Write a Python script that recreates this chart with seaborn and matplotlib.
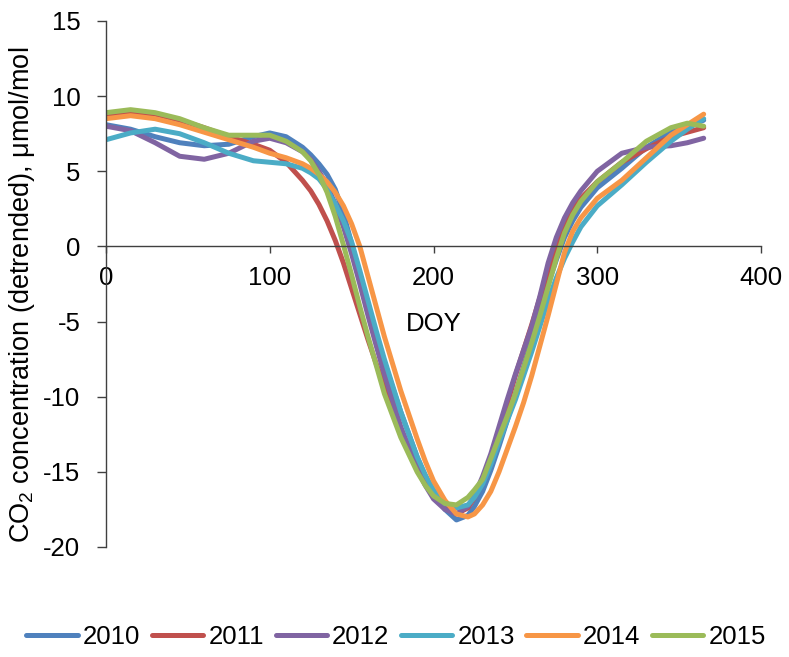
import matplotlib
matplotlib.use("Agg")
import matplotlib.pyplot as plt
import seaborn as sns
import pandas as pd

# ---- data ----
doy = [0, 15, 30, 45, 60, 75, 90, 100, 110, 120, 125, 130, 135, 140, 145, 150, 155, 160, 165, 170,
       180, 190, 195, 200, 207, 214, 221, 225, 230, 235, 240, 245, 250, 255, 260, 265, 270, 275,
       280, 285, 290, 300, 315, 330, 345, 355, 365]

y2010 = [8.1, 7.8, 7.3, 6.9, 6.7, 6.8, 7.3, 7.55, 7.3, 6.6, 6.1, 5.5, 4.8, 3.8, 2.2, 0.2, -1.9, -4.0,
         -5.9, -7.7, -11.0, -14.0, -15.3, -16.4, -17.5, -18.2, -17.9, -17.3, -16.3, -14.9, -13.3,
         -11.6, -9.8, -8.0, -6.2, -4.3, -2.5, -0.9, 0.6, 1.7, 2.6, 3.9, 5.2, 6.6, 7.6, 8.0, 8.4]
y2011 = [8.6, 8.9, 8.8, 8.4, 7.9, 7.3, 6.8, 6.4, 5.6, 4.4, 3.7, 2.8, 1.7, 0.4, -1.1, -2.8, -4.5, -6.2,
         -7.8, -9.3, -12.2, -14.6, -15.6, -16.5, -17.4, -17.8, -17.4, -16.7, -15.6, -14.1, -12.4,
         -10.5, -8.6, -6.9, -5.2, -3.4, -1.6, 0.0, 1.5, 2.5, 3.2, 4.3, 5.6, 6.5, 7.3, 7.6, 7.9]
y2012 = [8.0, 7.7, 6.9, 6.0, 5.8, 6.2, 7.0, 7.2, 6.9, 6.3, 5.8, 5.0, 4.1, 2.8, 1.3, -0.5, -2.5, -4.6,
         -6.6, -8.5, -12.0, -14.8, -15.9, -16.8, -17.5, -17.8, -17.3, -16.6, -15.3, -13.8, -12.0,
         -10.2, -8.5, -6.9, -5.3, -3.3, -1.1, 0.6, 1.9, 2.9, 3.7, 5.0, 6.2, 6.6, 6.7, 6.9, 7.2]
y2013 = [7.1, 7.55, 7.8, 7.5, 6.9, 6.2, 5.7, 5.6, 5.5, 5.2, 4.9, 4.5, 3.8, 2.8, 1.7, 0.3, -1.6, -3.6,
         -5.6, -7.5, -11.0, -14.0, -15.2, -16.2, -17.1, -17.4, -17.2, -16.7, -15.8, -14.5, -13.0,
         -11.6, -10.2, -8.6, -7.0, -5.3, -3.6, -2.1, -0.8, 0.3, 1.3, 2.7, 4.1, 5.6, 7.0, 7.8, 8.5]
y2014 = [8.5, 8.7, 8.5, 8.1, 7.6, 7.1, 6.6, 6.2, 5.9, 5.5, 5.2, 4.8, 4.3, 3.6, 2.7, 1.5, 0.0, -2.0,
         -4.0, -6.0, -9.6, -12.8, -14.3, -15.6, -16.9, -17.8, -18.0, -17.8, -17.2, -16.3, -15.0,
         -13.5, -12.0, -10.4, -8.6, -6.6, -4.6, -2.5, -0.4, 1.0, 1.9, 3.2, 4.4, 5.9, 7.4, 8.1, 8.8]
y2015 = [8.9, 9.1, 8.9, 8.5, 7.9, 7.4, 7.4, 7.4, 7.0, 6.3, 5.7, 4.8, 3.6, 2.0, 0.1, -1.9, -4.0, -6.0,
         -7.9, -9.8, -12.7, -15.0, -15.9, -16.6, -17.1, -17.2, -16.7, -16.2, -15.5, -14.1, -12.7,
         -11.3, -9.8, -8.1, -6.4, -4.6, -2.7, -0.8, 0.9, 2.1, 3.0, 4.3, 5.6, 7.0, 7.9, 8.2, 8.0]

years = ["2010", "2011", "2012", "2013", "2014", "2015"]
series = [y2010, y2011, y2012, y2013, y2014, y2015]
colors = ["#4F81BD", "#C0504D", "#8064A2", "#4BACC6", "#F79646", "#9BBB59"]

xticks = [0, 100, 200, 300, 400]
yticks = [-20, -15, -10, -5, 0, 5, 10, 15]

rows = []
for yr, vals in zip(years, series):
    for d, v in zip(doy, vals):
        rows.append({"DOY": d, "CO2": v, "Year": yr})
df = pd.DataFrame(rows)

# ---- style ----
sns.set_style("white")
plt.rcParams["font.family"] = ["Liberation Sans", "DejaVu Sans"]
plt.rcParams["mathtext.fontset"] = "custom"
plt.rcParams["mathtext.rm"] = "Liberation Sans"
plt.rcParams["mathtext.it"] = "Liberation Sans"
plt.rcParams["text.color"] = "black"
plt.rcParams["axes.labelcolor"] = "black"

fig = plt.figure(figsize=(7.89, 6.57), dpi=100)
ax = fig.add_axes([106 / 789, 1 - 547 / 657, (761 - 106) / 789, (547 - 21) / 657])

sns.lineplot(data=df, x="DOY", y="CO2", hue="Year", palette=colors, hue_order=years,
             linewidth=3.6, ax=ax, legend=False, sort=False)
for ln in ax.get_lines():
    ln.set_solid_capstyle("round")
    ln.set_solid_joinstyle("round")

ax.set_xlim(0, 400)
ax.set_ylim(-20, 15)
ax.set_xticks(xticks)
ax.set_yticks(yticks)
ax.set_xticklabels([str(t) for t in xticks])
ax.set_yticklabels([str(t) for t in yticks])

for s in ["top", "right"]:
    ax.spines[s].set_visible(False)
ax.spines["bottom"].set_position(("data", 0))
for s in ["left", "bottom"]:
    ax.spines[s].set_color("#404040")
    ax.spines[s].set_linewidth(1.0)

ax.tick_params(axis="y", direction="out", length=6.5, width=1.0, color="#404040",
               labelcolor="black", labelsize=18.5, pad=12, left=True)
ax.tick_params(axis="x", direction="out", length=5, width=1.0, color="#404040",
               labelcolor="black", labelsize=18.5, pad=9, bottom=True)

ax.set_xlabel("DOY", fontsize=18.5)
ax.xaxis.set_label_coords(0.5, 0.447)
ax.set_ylabel(r"CO$_\mathrm{2}$ concentration (detrended), μmol/mol", fontsize=19.5)
ax.yaxis.set_label_coords(-0.105, 0.48)

handles = [plt.Line2D([0], [0], color=c, lw=3.6, solid_capstyle="round") for c in colors]
fig.legend(handles, years, loc="center", bbox_to_anchor=(0.502, 1 - 637 / 657), ncol=6,
           frameon=False, fontsize=18.5, handlelength=2.0, handletextpad=0.2,
           columnspacing=0.45, borderaxespad=0)

fig.savefig("out.png", dpi=100)
